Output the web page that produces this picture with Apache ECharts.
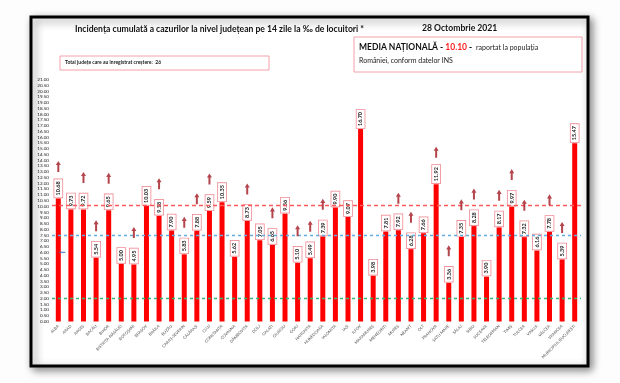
<!DOCTYPE html>
<html>
<head>
<meta charset="utf-8">
<script src="https://cdn.jsdelivr.net/npm/echarts@6/dist/echarts.min.js"></script>
<style>
html,body{margin:0;padding:0;background:#fdfdfd;}
#c{width:620px;height:383px;}
</style>
</head>
<body>
<div id="c"></div>
<script>
const categories = ['ALBA','ARAD','ARGEȘ','BACĂU','BIHOR','BISTRIȚA-NĂSĂUD','BOTOȘANI','BRAȘOV','BRĂILA','BUZĂU','CARAȘ-SEVERIN','CĂLĂRAȘI','CLUJ','CONSTANȚA','COVASNA','DÂMBOVIȚA','DOLJ','GALAȚI','GIURGIU','GORJ','HARGHITA','HUNEDOARA','IALOMIȚA','IAȘI','ILFOV','MARAMUREȘ','MEHEDINȚI','MUREȘ','NEAMȚ','OLT','PRAHOVA','SATU MARE','SĂLAJ','SIBIU','SUCEAVA','TELEORMAN','TIMIȘ','TULCEA','VASLUI','VÂLCEA','VRANCEA','MUNICIPIUL BUCUREȘTI'];
const values = [10.68,9.73,9.72,5.54,9.65,5.00,4.95,10.03,9.18,7.90,5.83,7.88,9.59,10.35,5.62,8.73,7.05,6.65,9.36,5.10,5.49,7.39,9.90,9.07,16.70,3.98,7.81,7.92,6.28,7.66,11.92,3.36,7.35,8.28,3.90,8.17,9.97,7.32,6.16,7.78,5.39,15.47];
const increased = [1,0,1,1,1,0,1,0,1,0,1,1,1,0,0,1,0,1,0,1,1,1,0,0,0,0,0,1,1,0,1,1,1,1,0,1,1,1,0,1,1,0];
const nationalAverage = 10.10;
const blueThreshold = 7.5;
const greenThreshold = 2.0;
const blueMarkValues = [6.0];
const yTicks = {min: 0, max: 21, interval: 0.5};
const titleText = 'Incidența cumulată a cazurilor la nivel județean pe 14 zile la ‰ de locuitori *';
const dateText = '28 Octombrie 2021';
const totalText = 'Total județe care au înregistrat creștere:  26';

const arrowData = values.map((v, i) => increased[i] ? v : '-');
const blueMarkData = categories.map((c, i) => i < blueMarkValues.length ? blueMarkValues[i] : '-');

const FF = 'Lato, "Open Sans", sans-serif';
const chart = echarts.init(document.getElementById('c'), null, {renderer: 'canvas'});
chart.setOption({
  animation: false,
  backgroundColor: 'transparent',
  grid: {left: 52, right: 39, top: 79.5, bottom: 61.5, containLabel: false},
  xAxis: {
    type: 'category', data: categories,
    axisLine: {show: false}, axisTick: {show: false},
    axisLabel: {interval: 0, rotate: 45, fontSize: 4, color: '#555', fontFamily: FF, margin: 4}
  },
  yAxis: {
    type: 'value', min: yTicks.min, max: yTicks.max, interval: yTicks.interval,
    axisLine: {show: false}, axisTick: {show: false}, splitLine: {show: false},
    axisLabel: {fontSize: 4.6, color: '#222', fontFamily: FF, margin: 3, formatter: v => v.toFixed(2)}
  },
  graphic: [
    {type: 'rect', z: -10, shape: {x: 31, y: 17, width: 557, height: 349},
     style: {fill: '#fff', stroke: '#000', lineWidth: 3, shadowBlur: 8, shadowOffsetX: 3, shadowOffsetY: 3, shadowColor: 'rgba(0,0,0,0.45)'}},
    {type: 'text', z: 100, left: 75, top: 25, style: {text: titleText, font: 'bold 8.6px ' + FF, fill: '#111'}},
    {type: 'text', z: 100, left: 422, top: 24, style: {text: dateText, font: 'bold 8.6px ' + FF, fill: '#111'}},
    {type: 'rect', z: 100, shape: {x: 60, y: 56, width: 209, height: 14},
     style: {fill: 'none', stroke: '#f2a0a8', lineWidth: 1}},
    {type: 'text', z: 100, left: 65, top: 60, style: {text: totalText, font: 'bold 5px ' + FF, fill: '#222'}},
    {type: 'rect', z: 100, shape: {x: 354, y: 37, width: 228, height: 35},
     style: {fill: 'none', stroke: '#f2a0a8', lineWidth: 1}},
    {type: 'text', z: 100, left: 359, top: 43, style: {
      text: '{b|MEDIA NAȚIONALĂ - }{r|' + nationalAverage.toFixed(2) + '}{b| - }{n| raportat la populația}',
      rich: {b: {font: 'bold 8.5px ' + FF, fill: '#111'}, r: {font: 'bold 8.5px ' + FF, fill: '#ff1a1a'}, n: {font: '7px ' + FF, fill: '#222'}}}},
    {type: 'text', z: 100, left: 359, top: 57, style: {text: 'României, conform datelor INS', font: '7px ' + FF, fill: '#222'}}
  ],
  series: [
    {
      type: 'bar', data: values, barWidth: 5,
      itemStyle: {color: '#ff0000'},
      label: {
        show: true, position: 'top', rotate: 90, align: 'left', verticalAlign: 'middle', distance: 1,
        formatter: p => p.value.toFixed(2),
        fontSize: 5.5, fontWeight: 'bold', color: '#222', fontFamily: FF,
        backgroundColor: '#fff', borderColor: '#f08a94', borderWidth: 0.8, padding: [1, 2, 1, 2]
      },
      markLine: {
        silent: true, symbol: 'none', label: {show: false},
        data: [
          {yAxis: nationalAverage, lineStyle: {color: '#ff5a5a', type: [4, 3], width: 1.4}},
          {yAxis: blueThreshold, lineStyle: {color: '#62aee0', type: [3, 3], width: 1.3}},
          {yAxis: greenThreshold, lineStyle: {color: '#33b877', type: [3, 3], width: 1.3}}
        ]
      },
      z: 3
    },
    {
      type: 'scatter', data: arrowData, symbol: 'path://M5,0 L10,6 L7,6 L7,16 L3,16 L3,6 L0,6 Z',
      symbolSize: [5, 11], symbolOffset: [0, -32], itemStyle: {color: '#a3161f'}, z: 5, silent: true
    },
    {
      type: 'scatter', data: blueMarkData, symbol: 'rect', symbolSize: [6, 1.4], symbolOffset: [4, 0],
      itemStyle: {color: '#3b78c2'}, z: 5, silent: true
    }
  ]
});
</script>
</body>
</html>
